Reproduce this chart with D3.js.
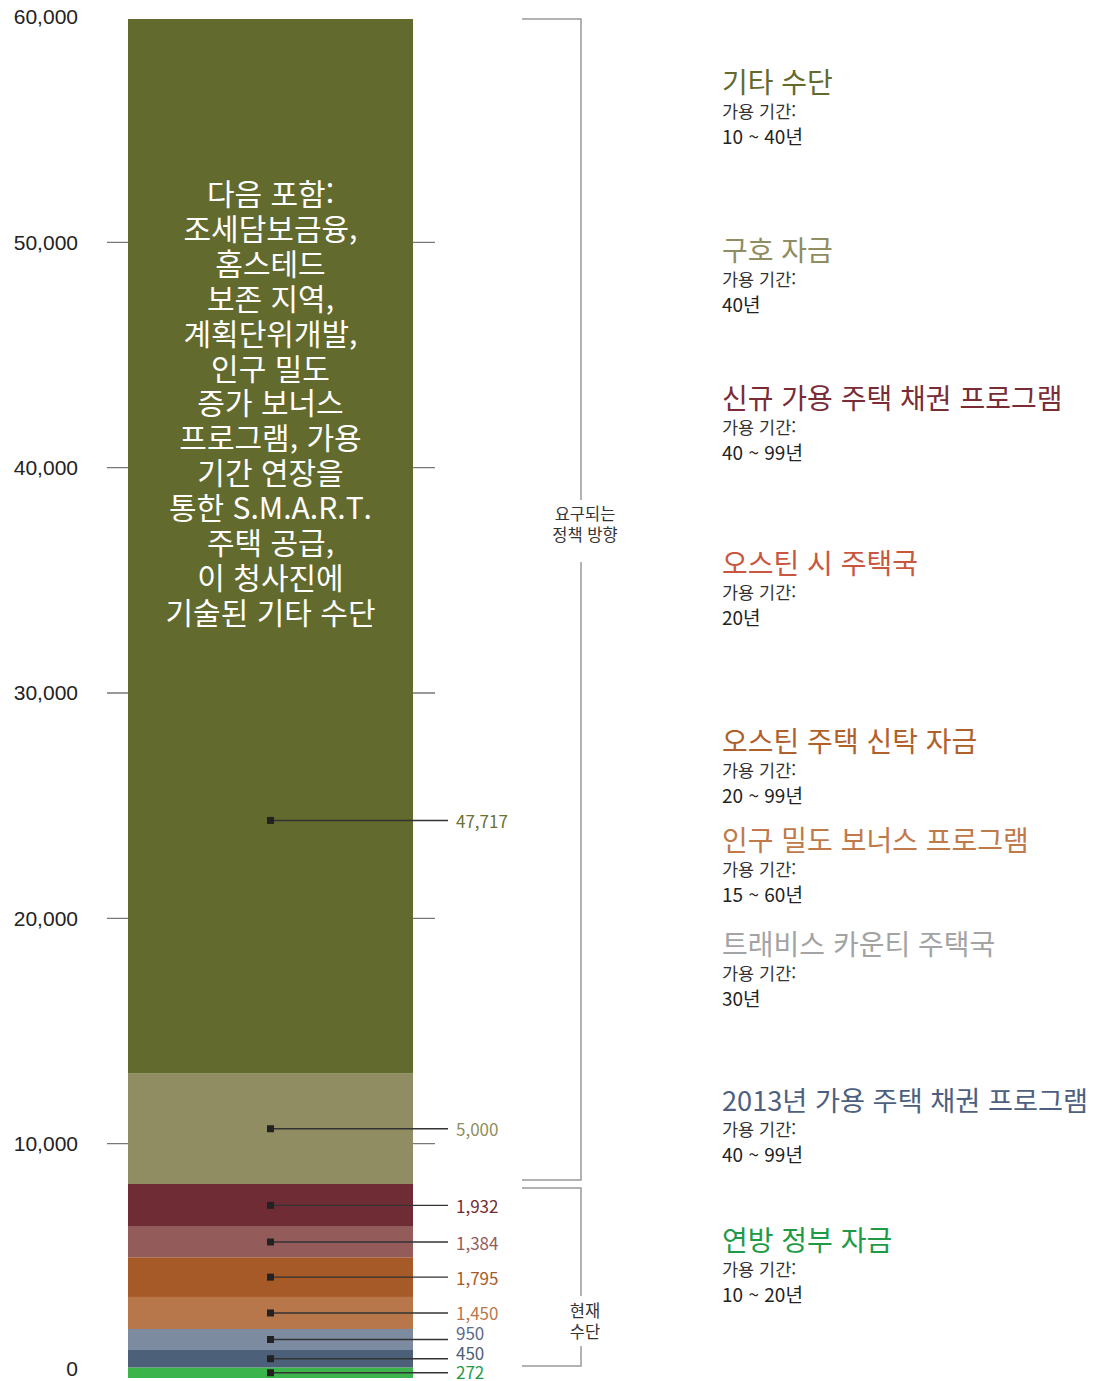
<!DOCTYPE html>
<html lang="ko">
<head>
<meta charset="UTF-8">
<title>주택 공급 수단</title>
<script src="https://d3js.org/d3.v7.min.js"></script>
<style>
    body {
        margin: 0;
        background: #fff;
        font-family: "Noto Sans CJK KR", "Noto Sans", sans-serif;
    }
    .axis text {
        font-size: 21px;
        fill: #222;
    }
    .axis path { display: none; }
</style>
</head>
<body>
<div id="chart"></div>
<script>
    // segments, bottom to top
    const names = ["연방 정부 자금", "2013년 가용 주택 채권 프로그램", "트래비스 카운티 주택국",
        "인구 밀도 보너스 프로그램", "오스틴 주택 신탁 자금", "오스틴 시 주택국",
        "신규 가용 주택 채권 프로그램", "구호 자금", "기타 수단"];
    const values = [272, 450, 950, 1450, 1795, 1384, 1932, 5000, 47717];
    const spans = ["10 ~ 20년", "40 ~ 99년", "30년", "15 ~ 60년", "20 ~ 99년", "20년", "40 ~ 99년", "40년", "10 ~ 40년"];
    const barColors = ["#3bb44a", "#4d6079", "#7d8ba1", "#b8774a", "#a65a27", "#935c5b", "#702c34", "#8f8d61", "#636a2e"];
    const labelColors = ["#1f9b48", "#4d6079", "#5b6b88", "#b8774a", "#a65a27", "#935c5b", "#702c34", "#8f8d61", "#6b7234"];
    const legendColors = ["#1f9b48", "#4d6080", "#a3a3a3", "#c07a4a", "#b0602a", "#c9573f", "#7a2c36", "#8f8d61", "#636a2e"];
    const tickValues = [0, 10000, 20000, 30000, 40000, 50000, 60000];
    const caption = ["다음 포함:", "조세담보금융,", "홈스테드", "보존 지역,", "계획단위개발,", "인구 밀도",
        "증가 보너스", "프로그램, 가용", "기간 연장을", "통한 S.M.A.R.T.", "주택 공급,", "이 청사진에", "기술된 기타 수단"];
    const currentCount = 7; // bottom seven are current tools

    const W = 1096, H = 1381;
    const barX0 = 128, barX1 = 413, barMid = (barX0 + barX1) / 2;

    const svg = d3.select("#chart").append("svg")
        .attr("width", W).attr("height", H);

    // axis scale (ticks) and bar scale
    const y = d3.scaleLinear().domain([0, 60000]).range([1369, 17]);
    const total = d3.sum(values);
    // the two thinnest slivers get a little extra room so they stay visible
    const sliver = values[0] + values[1];
    const yb = d3.scaleLinear().domain([0, sliver, total]).range([1378, 1350, 19]);

    let acc = 0;
    const segs = values.map((v, i) => {
        const s = { i, v, y0: acc, y1: acc + v };
        acc += v;
        return s;
    });

    svg.append("g")
        .attr("class", "axis")
        .attr("transform", "translate(78,0)")
        .call(d3.axisLeft(y).tickValues(tickValues).tickSize(0).tickPadding(0).tickFormat(d3.format(",")));

    // short tick marks either side of the bar
    const inner = tickValues.filter(t => t > 0 && t < 60000);
    svg.append("g").selectAll("line").data(inner).join("line")
        .attr("x1", 107).attr("x2", 435)
        .attr("y1", d => y(d)).attr("y2", d => y(d))
        .attr("stroke", "#777").attr("stroke-width", 1.3);

    svg.append("g").selectAll("rect").data(segs).join("rect")
        .attr("x", barX0).attr("width", barX1 - barX0)
        .attr("y", d => yb(d.y1))
        .attr("height", d => yb(d.y0) - yb(d.y1))
        .attr("fill", d => barColors[d.i]);

    // caption inside the big segment
    const bigSeg = segs[segs.length - 1];
    svg.append("text")
        .attr("text-anchor", "middle")
        .attr("fill", "#fff")
        .attr("font-size", 30)
        .selectAll("tspan").data(caption).join("tspan")
        .attr("x", barMid)
        .attr("y", (d, i) => yb(bigSeg.y1) + 186 + i * 34.9)
        .text(d => d);

    // leader lines and value labels
    const anchorY = d => d.i === segs.length - 1
        ? yb(d.y0 + d.v * 0.24)
        : yb(d.y0 + d.v / 2);
    // nudge labels upward so they keep 20px apart
    const labelY = [];
    segs.forEach((d, k) => {
        let ly = anchorY(d);
        if (k > 0) ly = Math.min(ly, labelY[k - 1] - 20);
        labelY.push(ly);
    });
    const leaders = svg.append("g").selectAll("g").data(segs).join("g");
    leaders.append("line")
        .attr("x1", barMid).attr("x2", 448)
        .attr("y1", anchorY).attr("y2", anchorY)
        .attr("stroke", "#333").attr("stroke-width", 1.4);
    leaders.append("rect")
        .attr("x", barMid - 3.5).attr("y", d => anchorY(d) - 3.5)
        .attr("width", 7).attr("height", 7)
        .attr("fill", "#222");
    leaders.append("text")
        .attr("x", 456).attr("y", d => Math.min(labelY[d.i], H - 10))
        .attr("dominant-baseline", "central")
        .attr("font-size", 17)
        .attr("fill", d => labelColors[d.i])
        .text(d => d3.format(",")(d.v));

    // brackets
    const split = segs[currentCount - 1].y1;
    function bracket(yTop, yBot, gapTop, gapBot, lines, textY) {
        const g = svg.append("g").attr("fill", "none").attr("stroke", "#999").attr("stroke-width", 1.5);
        g.append("path").attr("d", `M522,${yTop}H581V${gapTop}`);
        g.append("path").attr("d", `M581,${gapBot}V${yBot}H522`);
        svg.append("text")
            .attr("text-anchor", "middle")
            .attr("font-size", 16.5)
            .attr("fill", "#333")
            .selectAll("tspan").data(lines).join("tspan")
            .attr("x", 585)
            .attr("y", (d, i) => textY + i * 20.5)
            .attr("dominant-baseline", "central")
            .text(d => d);
    }
    bracket(yb(total), yb(split) - 4, 500, 562, ["요구되는", "정책 방향"], 513);
    bracket(yb(split) + 4, yb(0) - 12, 1296, 1346, ["현재", "수단"], 1310);

    // legend on the right, top to bottom
    const legendX = 722;
    const legendY = [81, 249, 397, 562, 740, 839, 943, 1099, 1239];
    const order = segs.slice().reverse();
    const leg = svg.append("g").selectAll("g").data(order).join("g")
        .attr("transform", (d, k) => `translate(${legendX},${legendY[k]})`);
    leg.append("text")
        .attr("dominant-baseline", "central")
        .attr("font-size", 28)
        .attr("fill", d => legendColors[d.i])
        .text(d => names[d.i])
        .each(function () {
            // shrink a title that would run past the right edge
            const room = W - legendX - 8;
            const len = this.getComputedTextLength();
            if (len > room) d3.select(this).attr("font-size", 28 * room / len);
        });
    leg.append("text")
        .attr("y", 29)
        .attr("dominant-baseline", "central")
        .attr("font-size", 17.5)
        .attr("fill", "#333")
        .text("가용 기간:");
    leg.append("text")
        .attr("y", 54)
        .attr("dominant-baseline", "central")
        .attr("font-size", 19)
        .attr("fill", "#222")
        .text(d => spans[d.i]);
</script>
</body>
</html>
